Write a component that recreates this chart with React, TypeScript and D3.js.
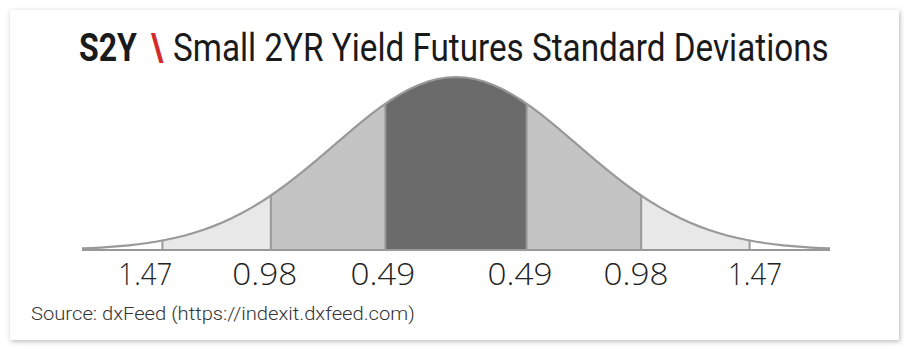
import React, { useLayoutEffect, useRef, useState } from "react";
import * as d3 from "d3";

// Data
const boundaryZ: number[] = [-2.41, -1.52, -0.58, 0.58, 1.52, 2.41];
const zoneFills: string[] = ["#ffffff", "#e8e8e8", "#c4c4c4", "#6b6b6b", "#c4c4c4", "#e8e8e8", "#ffffff"];
const tickLabels: string[] = ["1.47", "0.98", "0.49", "0.49", "0.98", "1.47"];
const labelZ: number[] = [-2.55, -1.57, -0.6, 0.525, 1.478, 2.455];
const zExtent: [number, number] = [-3.07, 3.07];
const titleCode = "S2Y";
const titleSep = "\\";
const titleText = "Small 2YR Yield Futures Standard Deviations";
const sourceText = "Source: dxFeed (https://indexit.dxfeed.com)";

const W = 909;
const H = 349;

type FitProps = {
  x: number;
  y: number;
  width: number;
  children: string;
  fontFamily: string;
  fontWeight: number;
  fontSize: number;
  fill: string;
};

function FitText({ x, y, width, children, fontFamily, fontWeight, fontSize, fill }: FitProps) {
  const ref = useRef<SVGTextElement>(null);
  const [k, setK] = useState(1);
  useLayoutEffect(() => {
    if (ref.current) {
      const w = ref.current.getComputedTextLength();
      if (w > 0) setK(width / w);
    }
  }, [children, width, fontSize]);
  return (
    <g transform={`translate(${x},${y}) scale(${k},1)`}>
      <text ref={ref} x={0} y={0} fontFamily={fontFamily} fontWeight={fontWeight} fontSize={fontSize} fill={fill}>
        {children}
      </text>
    </g>
  );
}

export default function App() {
  const x = d3.scaleLinear().domain(zExtent).range([82, 830]);
  const pdf = (z: number) => Math.exp(-0.5 * z * z);
  const y = d3.scaleLinear().domain([0, 1]).range([250, 77]);

  const stops = [zExtent[0], ...boundaryZ, zExtent[1]];
  const area = d3
    .area<number>()
    .x((z) => x(z))
    .y0(y(0))
    .y1((z) => y(pdf(z)));
  const line = d3
    .line<number>()
    .x((z) => x(z))
    .y((z) => y(pdf(z)));

  const sample = (a: number, b: number) => {
    const n = 80;
    return d3.range(n + 1).map((i) => a + ((b - a) * i) / n);
  };

  const full = sample(zExtent[0], zExtent[1]);

  return (
    <svg
      width={W}
      height={H}
      style={{ position: "absolute", left: 0, top: 0 }}
      xmlns="http://www.w3.org/2000/svg"
    >
      <defs>
        <filter id="sh" x="-5%" y="-10%" width="110%" height="120%">
          <feDropShadow dx="1" dy="1.5" stdDeviation="2.5" floodColor="#000" floodOpacity="0.28" />
        </filter>
      </defs>
      <rect x={0} y={0} width={W} height={H} fill="#ffffff" />
      <rect x={10} y={10} width={889} height={330} fill="#ffffff" filter="url(#sh)" />

      <FitText x={79} y={61} width={58} fontFamily="Roboto, sans-serif" fontWeight={700} fontSize={38} fill="#1a1a1a">
        {titleCode}
      </FitText>
      <FitText x={151} y={61} width={12} fontFamily="Roboto, sans-serif" fontWeight={700} fontSize={38} fill="#d42a2a">
        {titleSep}
      </FitText>
      <FitText x={173} y={61} width={656} fontFamily="Roboto, sans-serif" fontWeight={400} fontSize={38} fill="#1a1a1a">
        {titleText}
      </FitText>

      {stops.slice(0, -1).map((a, i) => (
        <path key={i} d={area(sample(a, stops[i + 1])) || ""} fill={zoneFills[i]} />
      ))}
      {boundaryZ.map((z, i) => (
        <line key={i} x1={x(z)} x2={x(z)} y1={y(0)} y2={y(pdf(z))} stroke="#999" strokeWidth={2} />
      ))}
      <path d={line(full) || ""} fill="none" stroke="#999" strokeWidth={2.2} />
      <line x1={x(zExtent[0])} x2={x(zExtent[1])} y1={y(0)} y2={y(0)} stroke="#999" strokeWidth={2.2} />

      {tickLabels.map((t, i) => {
        const w = t.startsWith("1") ? 54 : 65;
        return (
          <FitText
            key={i}
            x={x(labelZ[i]) - w / 2}
            y={285}
            width={w}
            fontFamily="'Open Sans', Roboto, sans-serif"
            fontWeight={300}
            fontSize={31}
            fill="#222"
          >
            {t}
          </FitText>
        );
      })}

      <FitText x={31} y={320} width={384} fontFamily="Roboto, sans-serif" fontWeight={300} fontSize={19} fill="#333">
        {sourceText}
      </FitText>
    </svg>
  );
}
